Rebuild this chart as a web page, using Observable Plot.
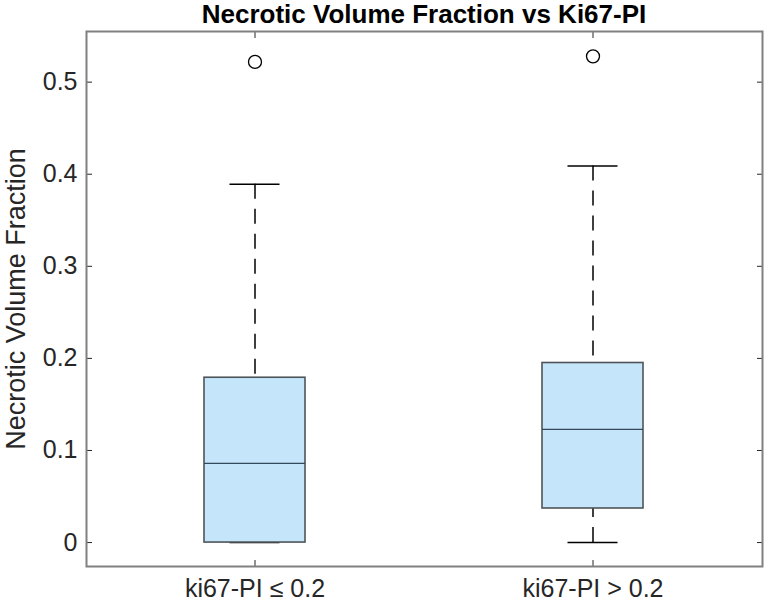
<!DOCTYPE html>
<html>
<head>
<meta charset="utf-8">
<script src="https://cdn.jsdelivr.net/npm/d3@7"></script>
<script src="https://cdn.jsdelivr.net/npm/@observablehq/plot@0.6"></script>
<style>
  body { margin: 0; background: #fff; }
  #title { width: 680px; margin-left: 84px; height: 29px; text-align: center; font-family: "Liberation Sans", Arial, sans-serif; font-weight: bold; font-size: 26px; line-height: 29px; color: #000; white-space: nowrap; overflow: visible; }
</style>
</head>
<body>
<div id="title">Necrotic Volume Fraction vs Ki67-PI</div>
<div id="chart"></div>
<script>
const categories = ["ki67-PI \u2264 0.2", "ki67-PI > 0.2"];
const q1 = [0, 0.037];
const median = [0.086, 0.123];
const q3 = [0.179, 0.195];
const whiskerLo = [0, 0];
const whiskerHi = [0.389, 0.409];
const outlierCat = ["ki67-PI \u2264 0.2", "ki67-PI > 0.2"];
const outlierVal = [0.522, 0.528];
const yTicks = [0, 0.1, 0.2, 0.3, 0.4, 0.5];
const yTickLabels = ["0", "0.1", "0.2", "0.3", "0.4", "0.5"];

const boxes = categories.map((c, i) => ({cat: c, q1: q1[i], med: median[i], q3: q3[i], lo: whiskerLo[i], hi: whiskerHi[i]}));
const outliers = outlierCat.map((c, i) => ({cat: c, v: outlierVal[i]}));

const chart = Plot.plot({
  width: 764,
  height: 576,
  marginLeft: 86,
  marginRight: 2,
  marginTop: 2,
  marginBottom: 39,
  style: {fontFamily: "Liberation Sans, Arial, sans-serif", fontSize: "24px", color: "#262626", background: "#fff"},
  x: {type: "band", domain: categories, paddingInner: 0.7, paddingOuter: 0.35},
  y: {domain: [-0.026, 0.555]},
  marks: [
    Plot.ruleX(boxes, {x: "cat", y1: "hi", y2: "q3", stroke: "#000", strokeWidth: 1.5, strokeDasharray: "15,10"}),
    Plot.ruleX(boxes, {x: "cat", y1: "lo", y2: "q1", stroke: "#000", strokeWidth: 1.5, strokeDasharray: "15,10"}),
    Plot.tickY(boxes, {x: "cat", y: "hi", stroke: "#000", strokeWidth: 1.5, insetLeft: 25.5, insetRight: 25.5}),
    Plot.tickY(boxes, {x: "cat", y: "lo", stroke: "#000", strokeWidth: 1.5, insetLeft: 25.5, insetRight: 25.5}),
    Plot.barY(boxes, {x: "cat", y1: "q1", y2: "q3", fill: "#c4e5fa", stroke: "#4f5458", strokeWidth: 1.6}),
    Plot.tickY(boxes, {x: "cat", y: "med", stroke: "#34495a", strokeWidth: 1.3}),
    Plot.dot(outliers, {x: "cat", y: "v", r: 6.5, stroke: "#000", strokeWidth: 1.3, fill: "none"}),
    Plot.axisY({anchor: "left", ticks: yTicks, tickFormat: (d) => yTickLabels[yTicks.indexOf(d)], tickSize: -6, tickPadding: 15, stroke: "#262626", fontSize: 25, label: null}),
    Plot.axisY({anchor: "left", ticks: [], tickSize: 0, label: "Necrotic Volume Fraction", labelAnchor: "center", labelArrow: "none", labelOffset: 81, fontSize: 27}),
    Plot.axisY({anchor: "right", ticks: yTicks, tickFormat: () => "", tickSize: -6, stroke: "#262626", label: null}),
    Plot.axisX({anchor: "bottom", tickSize: -6, tickPadding: 19, stroke: "#262626", label: null, fontSize: 25}),
    Plot.axisX({anchor: "top", tickSize: -6, tickFormat: () => "", stroke: "#262626", label: null}),
    Plot.frame({stroke: "#808080", strokeWidth: 2})
  ]
});
document.getElementById("chart").appendChild(chart);
</script>
</body>
</html>
